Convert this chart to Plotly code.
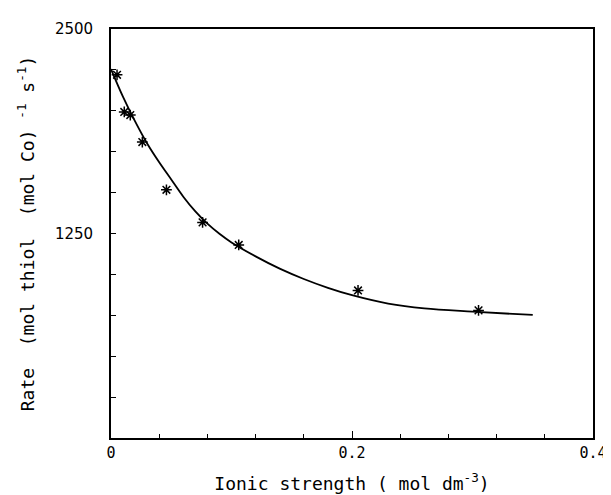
import plotly.graph_objects as go

# measured points
ionic_strength = [0.005, 0.011, 0.016, 0.026, 0.046, 0.076, 0.106, 0.205, 0.305]
rate = [2220, 1993, 1974, 1809, 1517, 1318, 1180, 902, 780]

# fitted curve
curve_x = [0.0, 0.01, 0.02, 0.03, 0.04, 0.05, 0.06, 0.07, 0.08, 0.09, 0.10,
           0.12, 0.14, 0.16, 0.18, 0.20, 0.23, 0.26, 0.30, 0.35]
curve_y = [2255, 2085, 1935, 1800, 1685, 1580, 1475, 1385, 1310, 1248, 1195,
           1110, 1035, 972, 918, 873, 822, 792, 772, 752]

x_tickvals = [0, 0.2, 0.4]
x_ticktext = ["0", "0.2", "0.4"]
y_tickvals = [1250, 2500]
y_ticktext = ["1250", "2500"]

fig = go.Figure()
fig.add_trace(go.Scatter(x=curve_x, y=curve_y, mode="lines",
                         line=dict(color="black", width=1.8, shape="spline", smoothing=1),
                         showlegend=False, hoverinfo="skip"))
fig.add_trace(go.Scatter(x=ionic_strength, y=rate, mode="markers",
                         marker=dict(symbol="asterisk-open", size=9, color="black",
                                     line=dict(color="black", width=1.5)),
                         showlegend=False))

mono = "DejaVu Sans Mono"
fig.update_layout(
    width=611, height=495,
    margin=dict(l=103, r=15, t=20, b=65),
    paper_bgcolor="white", plot_bgcolor="white",
    font=dict(family=mono, color="black"),
    xaxis=dict(
        range=[0, 0.4], tickvals=x_tickvals, ticktext=x_ticktext,
        ticks="inside", ticklen=7, tickwidth=1.3, tickcolor="black",
        minor=dict(dtick=0.04, tick0=0, ticks="inside", ticklen=4, tickwidth=1.3, tickcolor="black"),
        showline=True, linecolor="black", linewidth=1.8, mirror=True,
        showgrid=False, zeroline=False,
        tickfont=dict(family=mono, size=15, color="black"),
        title=dict(text="Ionic strength ( mol dm<sup>-3</sup>)", standoff=16,
                   font=dict(family=mono, size=18, color="black")),
    ),
    yaxis=dict(
        range=[0, 2500], tickvals=y_tickvals, ticktext=y_ticktext,
        ticks="inside", ticklen=5, tickwidth=1.3, tickcolor="black",
        minor=dict(dtick=250, tick0=0, ticks="inside", ticklen=5, tickwidth=1.3, tickcolor="black"),
        showline=True, linecolor="black", linewidth=1.8, mirror=True,
        showgrid=False, zeroline=False,
        tickfont=dict(family="DejaVu Sans", size=15, color="black"),
        ticklabelstandoff=13,
        title=dict(text="Rate  (mol thiol  (mol Co) <sup>-1</sup> s<sup>-1</sup>)", standoff=16,
                   font=dict(family=mono, size=18, color="black")),
    ),
)

fig.write_html("out.html")
